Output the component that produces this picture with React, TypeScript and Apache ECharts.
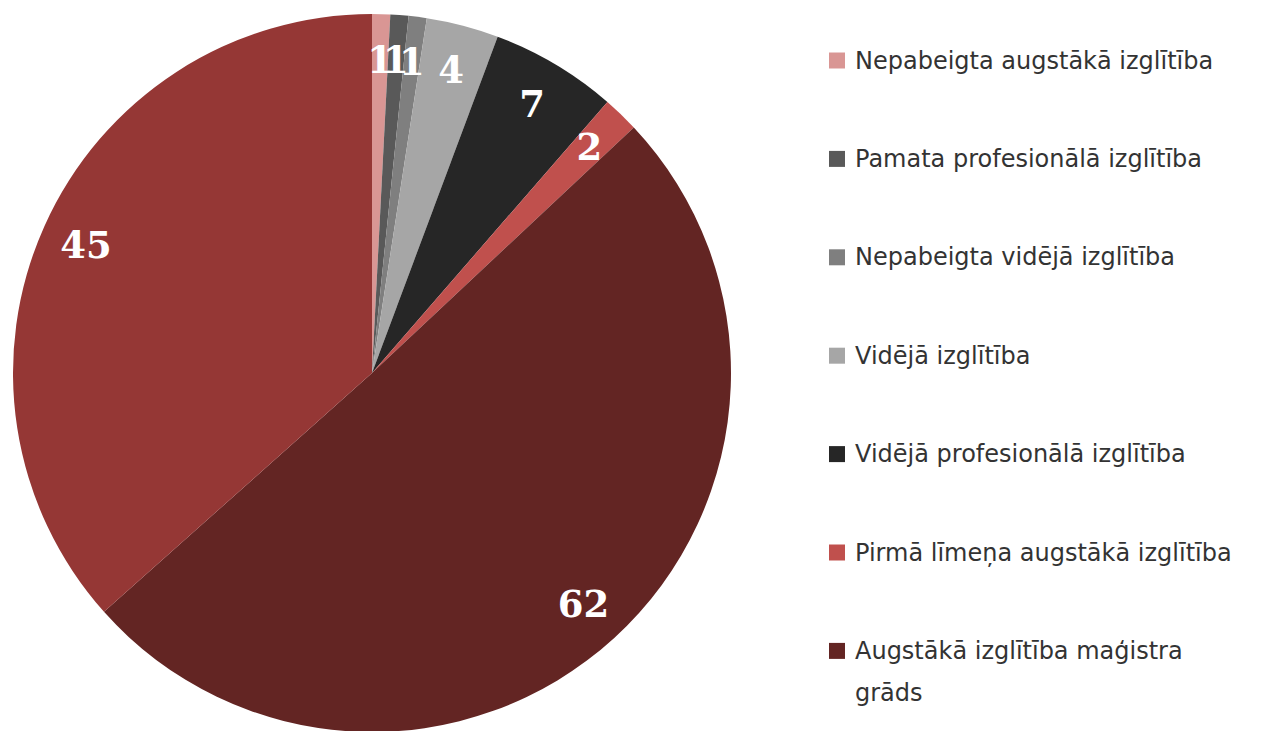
import React, { useEffect, useRef } from 'react';
import * as echarts from 'echarts';

const categories = [
  'Nepabeigta augstākā izglītība',
  'Pamata profesionālā izglītība',
  'Nepabeigta vidējā izglītība',
  'Vidējā izglītība',
  'Vidējā profesionālā izglītība',
  'Pirmā līmeņa augstākā izglītība',
  'Augstākā izglītība maģistra grāds',
  'Augstākā izglītība bakalaura grāds',
];
const values = [1, 1, 1, 4, 7, 2, 62, 45];
const colors = ['#d99694', '#595959', '#7f7f7f', '#a6a6a6', '#262626', '#c0504d', '#632523', '#953735'];
const legendCount = 7;

const CX = 372;
const CY = 373;
const R = 359;
const LEGEND_X = 829;
const LEGEND_Y0 = 60.5;
const LEGEND_STEP = 98.4;
const ICON = 16;
const LH = 30;
const LH2 = 42;
const FONT = 'DejaVu Sans';
const FS = 24;

export default function App() {
  const ref = useRef<HTMLDivElement>(null);
  useEffect(() => {
    document.body.style.margin = '0';
    const chart = echarts.init(ref.current!, undefined, { renderer: 'svg' });
    const legends = categories.slice(0, legendCount).map((name, i) => {
      const yc = LEGEND_Y0 + i * LEGEND_STEP;
      const last = i === legendCount - 1;
      const boxH = last ? LH2 * 3 : LH;
      return {
        show: true,
        orient: 'vertical',
        left: LEGEND_X,
        top: yc - Math.max(boxH / 2, ICON / 2),
        padding: 0,
        itemWidth: ICON,
        itemHeight: ICON,
        icon: 'rect',
        selectedMode: false,
        data: [{ name, itemStyle: { color: colors[i] } }],
        formatter: last ? () => '\nAugstākā izglītība maģistra\ngrāds' : undefined,
        textStyle: {
          fontFamily: FONT,
          fontSize: FS,
          color: '#333333',
          lineHeight: last ? LH2 : LH,
          padding: [0, 0, 0, 5],
        },
      };
    });
    chart.setOption({
      animation: false,
      backgroundColor: '#ffffff',
      legend: legends,
      series: [
        {
          type: 'pie',
          center: [CX, CY],
          radius: [0, R],
          startAngle: 90,
          clockwise: true,
          silent: true,
          label: { show: false },
          labelLine: { show: false },
          data: categories.map((name, i) => ({ name, value: values[i], itemStyle: { color: colors[i] } })),
        },
        {
          type: 'pie',
          center: [CX, CY],
          radius: [R - 97, R],
          startAngle: 90,
          clockwise: true,
          silent: true,
          avoidLabelOverlap: false,
          labelLayout: { hideOverlap: false },
          itemStyle: { color: 'rgba(0,0,0,0)' },
          labelLine: { show: false },
          label: {
            show: true,
            position: 'inside',
            formatter: '{c}',
            color: '#ffffff',
            fontFamily: 'DejaVu Serif',
            fontWeight: 'bold',
            fontSize: 37,
          },
          data: categories.map((name, i) => ({ name, value: values[i] })),
        },
      ],
    });
    return () => chart.dispose();
  }, []);
  return <div ref={ref} style={{ width: 1272, height: 731 }} />;
}
